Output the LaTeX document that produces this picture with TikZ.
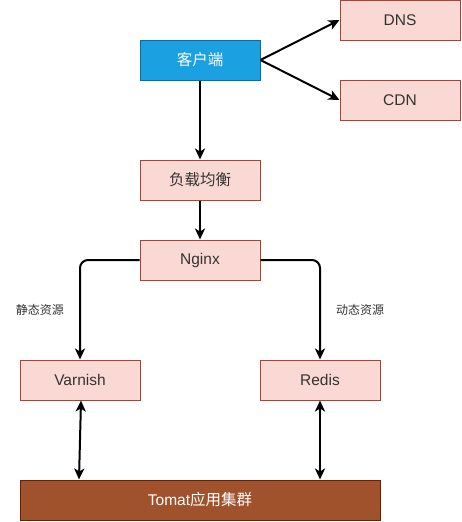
\documentclass[tikz,border=0pt]{standalone}
\usepackage{fontspec}
\setmainfont{Liberation Sans}
\newfontfamily\cjk{Noto Sans CJK SC}
\usetikzlibrary{arrows.meta}
\definecolor{pinkfill}{HTML}{FAD9D5}
\definecolor{pinkdraw}{HTML}{AE4132}
\definecolor{bluefill}{HTML}{1BA1E2}
\definecolor{bluedraw}{HTML}{006EAF}
\definecolor{brownfill}{HTML}{A0522D}
\definecolor{browndraw}{HTML}{6D1F00}
\definecolor{txt}{HTML}{333333}
\tikzset{
  pbox/.style={draw=pinkdraw,fill=pinkfill,line width=1pt,minimum width=120pt,minimum height=40pt,inner sep=0pt,text=txt,font=\fontsize{15.5pt}{18pt}\selectfont},
  bbox/.style={draw=bluedraw,fill=bluefill,line width=1pt,minimum width=120pt,minimum height=40pt,inner sep=0pt,text=white,font=\fontsize{15.5pt}{18pt}\selectfont},
  tbox/.style={draw=browndraw,fill=brownfill,line width=1pt,minimum width=360pt,minimum height=40pt,inner sep=0pt,text=white,font=\fontsize{15.5pt}{18pt}\selectfont},
  tip/.tip={Stealth[length=11pt,width=10pt,inset=3pt]},
  conn/.style={line width=2pt,-tip},
  biconn/.style={line width=2pt,tip-tip},
  lbl/.style={text=txt,font=\fontsize{12pt}{14pt}\selectfont\cjk,inner sep=0pt}
}
\begin{document}
\begin{tikzpicture}[x=1pt,y=-1pt]
\useasboundingbox (0,0) rectangle (461,522);
\node[bbox] (client) at (200,60) {\cjk 客户端};
\node[pbox] (dns) at (400,20) {DNS};
\node[pbox] (cdn) at (400,100) {CDN};
\node[pbox] (lb) at (200,180) {\cjk 负载均衡};
\node[pbox] (nginx) at (200,260) {Nginx};
\node[pbox] (varnish) at (80,380) {Varnish};
\node[pbox] (redis) at (320,380) {Redis};
\node[tbox] (tomat) at (200,500) {Tomat{\cjk 应用集群}};
\node[lbl] (ls) at (40,310) {静态资源};
\node[lbl] (ld) at (360,310) {动态资源};
\draw[conn] (client.east) -- (dns.west);
\draw[conn] (client.east) -- (cdn.west);
\draw[conn] (client.south) -- (lb.north);
\draw[conn] (lb.south) -- (nginx.north);
\draw[conn,rounded corners=8pt] (nginx.west) -| (varnish.north);
\draw[conn,rounded corners=8pt] (nginx.east) -| (redis.north);
\draw[biconn] ([xshift=1pt]varnish.south) -- ([xshift=-121pt]tomat.north);
\draw[biconn] (redis.south) -- ([xshift=120pt]tomat.north);
\end{tikzpicture}
\end{document}
